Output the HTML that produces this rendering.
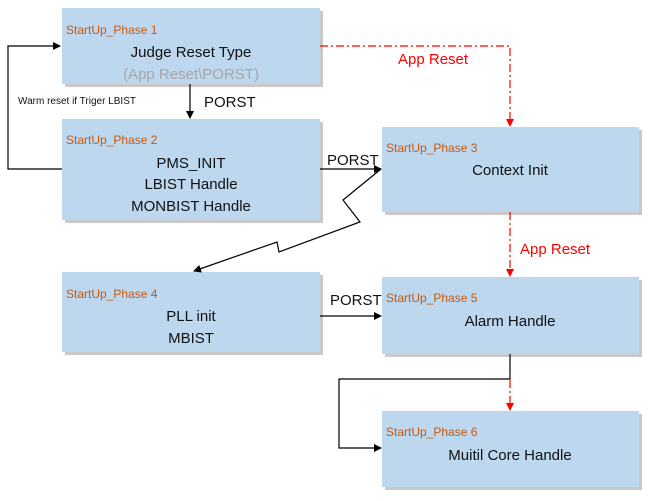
<!DOCTYPE html>
<html><head><meta charset="utf-8"><style>
html,body{margin:0;padding:0;background:#fff;}
svg{display:block;font-family:"Liberation Sans",sans-serif;}
.o{fill:#c55a11;font-size:12px;}
.t{fill:#111;font-size:15px;text-anchor:middle;}
</style></head><body>
<svg width="658" height="501" viewBox="0 0 658 501">
<defs>
<marker id="a" markerWidth="8" markerHeight="8" refX="7" refY="4" orient="auto" markerUnits="userSpaceOnUse"><path d="M0,0 L8,4 L0,8 z" fill="#000"/></marker>
<marker id="r" markerWidth="8" markerHeight="8" refX="7" refY="4" orient="auto" markerUnits="userSpaceOnUse"><path d="M0,0 L8,4 L0,8 z" fill="#f00"/></marker>
</defs>
<g fill="#c9c9c9">
<rect x="65" y="11" width="258" height="76"/>
<rect x="65" y="122" width="258" height="101"/>
<rect x="385" y="130" width="257" height="85"/>
<rect x="65" y="275" width="258" height="80"/>
<rect x="385" y="280" width="257" height="77"/>
<rect x="385" y="414" width="257" height="76"/>
</g>
<g fill="#bdd7ee">
<rect x="62" y="8" width="258" height="76"/>
<rect x="62" y="119" width="258" height="101"/>
<rect x="382" y="127" width="257" height="85"/>
<rect x="62" y="272" width="258" height="80"/>
<rect x="382" y="277" width="257" height="77"/>
<rect x="382" y="411" width="257" height="76"/>
</g>
<text class="o" x="66" y="34">StartUp_Phase 1</text>
<text class="t" x="191" y="57">Judge Reset Type</text>
<text class="t" x="191" y="79" fill="#a6a6a6" style="fill:#a6a6a6">(App Reset\PORST)</text>
<text class="o" x="66" y="144">StartUp_Phase 2</text>
<text class="t" x="191" y="168">PMS_INIT</text>
<text class="t" x="191" y="189">LBIST Handle</text>
<text class="t" x="191" y="211">MONBIST Handle</text>
<text class="o" x="386" y="152">StartUp_Phase  3</text>
<text class="t" x="510" y="175">Context Init</text>
<text class="o" x="66" y="298">StartUp_Phase 4</text>
<text class="t" x="191" y="321">PLL init</text>
<text class="t" x="191" y="343">MBIST</text>
<text class="o" x="386" y="302">StartUp_Phase 5</text>
<text class="t" x="510" y="326">Alarm Handle</text>
<text class="o" x="386" y="436">StartUp_Phase 6</text>
<text class="t" x="510" y="460">Muitil Core Handle</text>
<g stroke="#000" stroke-width="1.2" fill="none">
<polyline points="62,169 8,169 8,46 60,46" marker-end="url(#a)"/>
<line x1="190" y1="84" x2="190" y2="118" marker-end="url(#a)"/>
<line x1="320" y1="169" x2="381" y2="169" marker-end="url(#a)"/>
<polyline points="381,169 343,200 360,222 279,252 277,242 194,271" marker-end="url(#a)"/>
<line x1="320" y1="316" x2="381" y2="316" marker-end="url(#a)"/>
<polyline points="510,354 510,379 339,379 339,448 381,448" marker-end="url(#a)"/>
</g>
<g stroke="#f00" stroke-width="1.2" fill="none" stroke-dasharray="8,3,2,3">
<polyline points="320,46 510,46 510,126" marker-end="url(#r)"/>
<line x1="510" y1="212" x2="510" y2="276" marker-end="url(#r)"/>
<line x1="510" y1="380" x2="510" y2="410" marker-end="url(#r)"/>
</g>
<text x="18" y="104" font-size="10" fill="#111">Warm reset if Triger LBIST</text>
<text x="204" y="107" font-size="15" fill="#111">PORST</text>
<text x="327" y="165" font-size="15" fill="#111">PORST</text>
<text x="330" y="305" font-size="15" fill="#111">PORST</text>
<text x="398" y="64" font-size="15" fill="#f00">App Reset</text>
<text x="520" y="254" font-size="15" fill="#f00">App Reset</text>
</svg>
</body></html>
